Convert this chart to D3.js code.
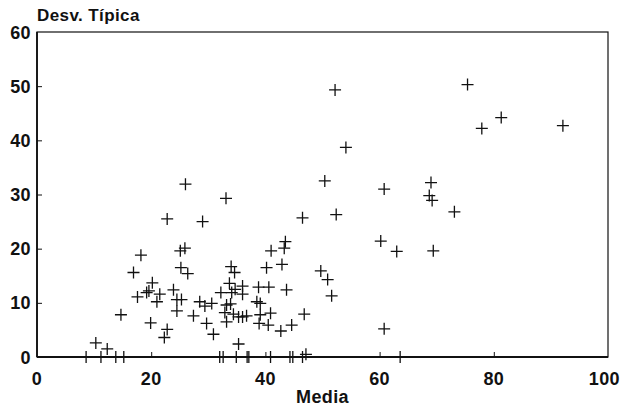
<!DOCTYPE html>
<html>
<head>
<meta charset="utf-8">
<script src="https://cdn.jsdelivr.net/npm/d3@7"></script>
<style>
  body { margin: 0; background: #fff; }
  text { font-family: "Liberation Sans", Arial, sans-serif; font-weight: bold; fill: #111; letter-spacing: 0.4px; }
</style>
</head>
<body>
<svg id="chart" width="622" height="408"></svg>
<script>
// mean (Media) values
const media = [
  75.4, 52.2, 81.3, 77.9, 92.1, 54.1, 50.4, 60.8, 69.0, 68.7, 69.2, 73.1, 69.4,
  46.5, 52.4, 60.2, 63.0, 49.7, 50.9, 51.6, 46.8, 60.8, 47.1,
  33.1, 29.0, 26.0, 22.8, 43.5, 43.3, 41.0, 40.2, 42.9, 34.0, 34.6, 25.9, 25.1,
  18.2, 16.9, 25.2, 26.4, 20.2, 19.2, 19.6, 17.6, 21.5, 21.0, 23.9, 24.5, 25.3, 24.5,
  28.5, 29.4, 27.4, 29.7, 14.7, 19.9, 22.8, 22.3, 10.3, 12.3,
  33.7, 32.2, 34.1, 34.7, 36.0, 36.0, 38.8, 40.6, 43.7, 30.6, 33.2, 33.9, 38.5,
  39.1, 32.9, 34.4, 35.3, 36.0, 36.7, 40.9, 39.1, 33.2, 38.9, 40.5, 42.7, 44.6,
  30.9, 35.3,
  8.6, 11.2, 13.8, 15.2, 32.0, 32.6, 34.9, 36.8, 37.1, 40.9, 44.3, 44.8, 46.5, 63.6
];
// standard deviation (Desv. Típica) values
const desv = [
  50.3, 49.3, 44.2, 42.2, 42.7, 38.7, 32.5, 31.0, 32.2, 29.8, 28.9, 26.8, 19.6,
  25.7, 26.3, 21.4, 19.5, 15.9, 14.3, 11.3, 7.9, 5.2, 0.5,
  29.3, 25.0, 31.9, 25.5, 21.3, 20.1, 19.6, 16.5, 17.1, 16.7, 15.6, 20.1, 19.6,
  18.8, 15.6, 16.5, 15.4, 13.7, 11.9, 12.2, 11.1, 11.6, 10.2, 12.4, 10.6, 10.6, 8.5,
  10.2, 9.4, 7.6, 6.2, 7.8, 6.3, 5.1, 3.6, 2.6, 1.5,
  13.6, 11.9, 11.9, 12.5, 13.1, 11.6, 12.9, 12.9, 12.4, 9.9, 9.6, 9.8, 10.2,
  9.9, 8.2, 7.9, 7.4, 7.4, 7.6, 8.1, 7.8, 6.5, 6.2, 5.9, 4.8, 5.9,
  4.2, 2.4,
  0, 0, 0, 0, 0, 0, 0, 0, 0, 0, 0, 0, 0, 0
];
const xTicks = [0, 20, 40, 60, 80, 100];
const yTicks = [0, 10, 20, 30, 40, 50, 60];

const points = media.map((m, i) => ({ x: m, y: desv[i] }));

const svg = d3.select('#chart');
const plotL = 37, plotR = 608, plotT = 32, plotB = 357;

const x = d3.scaleLinear().domain([0, 100]).range([plotL, plotR]);
const y = d3.scaleLinear().domain([0, 60]).range([plotB, plotT]);

// frame: thin top/right, heavier left/bottom
svg.append('rect')
  .attr('x', plotL).attr('y', plotT)
  .attr('width', plotR - plotL).attr('height', plotB - plotT)
  .attr('fill', 'none').attr('stroke', '#111').attr('stroke-width', 1.2);
svg.append('line').attr('x1', plotL).attr('x2', plotL).attr('y1', plotT).attr('y2', plotB)
  .attr('stroke', '#111').attr('stroke-width', 1.8);
svg.append('line').attr('x1', plotL).attr('x2', plotR).attr('y1', plotB).attr('y2', plotB)
  .attr('stroke', '#111').attr('stroke-width', 2);

// inward ticks
const yAxis = d3.axisRight(y).tickValues(yTicks.slice(1, -1)).tickSize(5).tickFormat('');
svg.append('g').attr('transform', `translate(${plotL},0)`).call(yAxis)
  .call(g => g.select('.domain').remove())
  .call(g => g.selectAll('line').attr('stroke', '#111'));
const xAxis = d3.axisTop(x).tickValues(xTicks.slice(1, -1)).tickSize(5).tickFormat('');
svg.append('g').attr('transform', `translate(0,${plotB})`).call(xAxis)
  .call(g => g.select('.domain').remove())
  .call(g => g.selectAll('line').attr('stroke', '#111'));

// tick labels
svg.selectAll('.ylab').data(yTicks).enter().append('text')
  .attr('x', 31).attr('y', d => y(d) + 6.5)
  .attr('text-anchor', 'end').attr('font-size', 18)
  .text(d => d);
svg.selectAll('.xlab').data(xTicks).enter().append('text')
  .attr('x', d => d === 100 ? 620 : x(d)).attr('y', plotB + 28)
  .attr('text-anchor', d => d === 100 ? 'end' : 'middle').attr('font-size', 18)
  .text(d => d);

// axis titles
svg.append('text').attr('x', 37).attr('y', 21).attr('font-size', 17).text('Desv. Típica');
svg.append('text').attr('x', (plotL + plotR) / 2).attr('y', 403)
  .attr('text-anchor', 'middle').attr('font-size', 18).text('Media');

// plus markers
const h = 6;
const marks = svg.append('g').attr('stroke', '#111').attr('stroke-width', 1.3).attr('fill', 'none');
marks.selectAll('path').data(points).enter().append('path')
  .attr('d', d => {
    const cx = x(d.x), cy = y(d.y);
    return `M${cx - h},${cy}H${cx + h}M${cx},${cy - h}V${cy + h}`;
  });
</script>
</body>
</html>
